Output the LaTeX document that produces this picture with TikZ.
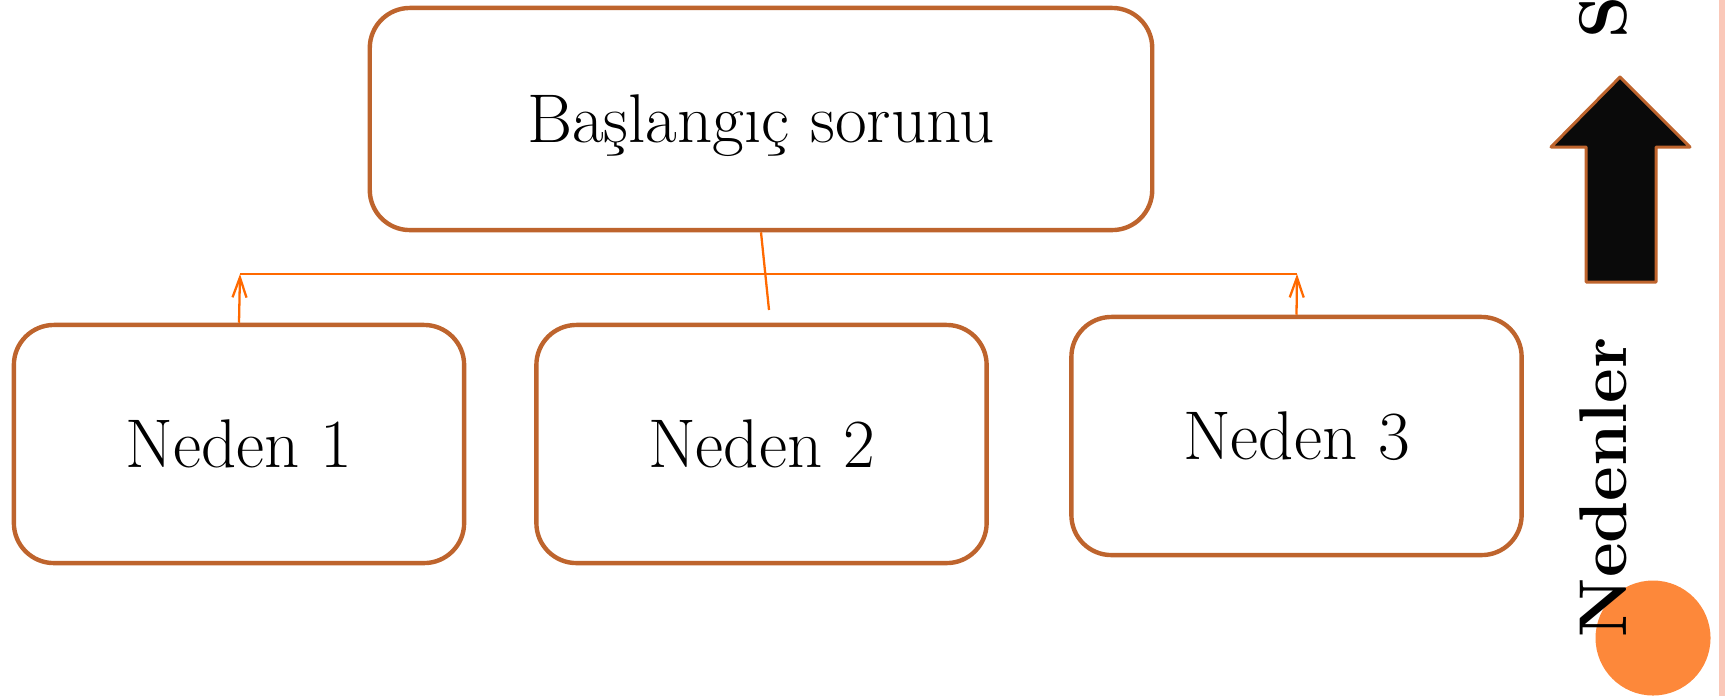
\documentclass[tikz,border=0pt]{standalone}
\usepackage{fontspec}
\usetikzlibrary{arrows.meta}
\definecolor{boxbrown}{RGB}{190,100,45}
\definecolor{lineorange}{RGB}{255,105,0}
\definecolor{dotorange}{RGB}{253,136,58}
\definecolor{edgepink}{RGB}{250,200,185}
\definecolor{arrowblack}{RGB}{10,10,10}
\begin{document}
\begin{tikzpicture}[x=0.01cm, y=-0.01cm]
  \useasboundingbox (0, 0) rectangle (1725, 696);
  \clip (0, 0) rectangle (1725, 696);  % Rand abschneiden.
  \tikzstyle{box}=[draw=boxbrown, line width=1.25pt, rounded corners=0.4cm, fill=white,
    minimum height=2.38cm, minimum width=4.5cm, inner sep=0pt, text depth=0pt,
    font=\fontsize{19.6}{23}\selectfont]
  \tikzstyle{conn}=[draw=lineorange, line width=0.65pt]
  \tikzstyle{tip}=[-{Straight Barb[length=0.2cm, width=0.14cm, line width=0.65pt]}]
  \tikzstyle{side}=[rotate=90, anchor=base west, inner sep=0pt,
    font=\fontsize{19.2}{23}\selectfont\bfseries]

  \fill [edgepink] (1719, 0) rectangle (1725, 696);

  \node[box, minimum width=7.82cm, minimum height=2.22cm] (top) at (761,  119) {Başlangıç sorunu};
  \node[box] (n1) at (239,    444) {Neden 1};
  \node[box] (n2) at (761.5,  444) {Neden 2};
  \node[box] (n3) at (1296.5, 436) {Neden 3};

  \coordinate (jl)  at (240,  274);
  \coordinate (jr)  at (1297, 274);
  \coordinate (mid) at (769,  310);

  \draw[conn] (jl) -- (jr);
  \draw[conn] (top.south) -- (mid);
  \draw[conn, tip] (n1.north) -- (jl);
  \draw[conn, tip] (n3.north) -- (jr);

  \fill[dotorange] (1653, 638) circle (57.5);
  \filldraw[fill=arrowblack, draw=boxbrown, line width=0.85pt, line join=round]
    (1620, 77) -- (1690, 147) -- (1656, 147) -- (1656, 282)
    -- (1586, 282) -- (1586, 147) -- (1551, 147) -- cycle;

  \node[side] (nedenler) at (1626, 638) {Nedenler};
  \node[side] (s)        at (1626, 39)  {S};
\end{tikzpicture}
\end{document}
